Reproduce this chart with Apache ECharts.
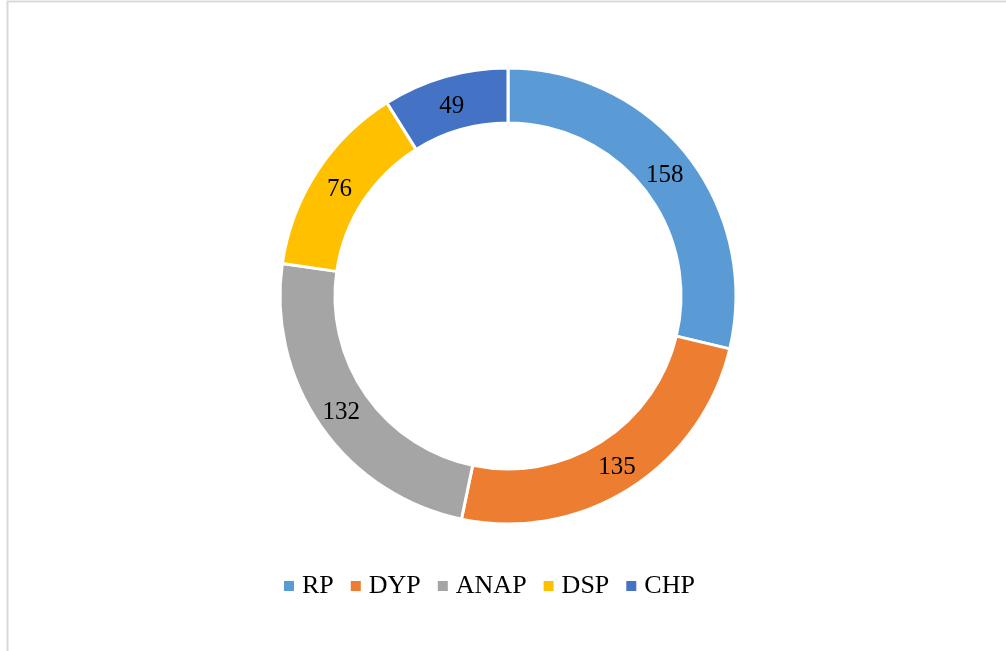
<!DOCTYPE html>
<html>
<head>
<meta charset="utf-8">
<script src="https://cdn.jsdelivr.net/npm/echarts@6/dist/echarts.min.js"></script>
<style>
  html, body { margin: 0; padding: 0; background: #fff; }
  #chart { width: 1006px; height: 651px; }
</style>
</head>
<body>
<div id="chart"></div>
<script>
// 各类别及数量
const categories = ['RP', 'DYP', 'ANAP', 'DSP', 'CHP'];
const values = [158, 135, 132, 76, 49];
const colors = ['#5B9BD5', '#ED7D31', '#A5A5A5', '#FFC000', '#4472C4'];

// 标签微调（上半部分标签稍微下移）
const labelShift = { RP: [-3, 6], DSP: [2, 4], CHP: [0, 6] };

const myChart = echarts.init(document.getElementById('chart'));
const option = {
  animation: false,
  color: colors,
  graphic: [
    {
      type: 'rect',
      shape: { x: 7.5, y: 1.5, width: 1100, height: 700 },
      style: { fill: 'none', stroke: '#d9d9d9', lineWidth: 2 },
      silent: true
    }
  ],
  legend: {
    data: categories,
    left: 277,
    top: 568,
    icon: 'rect',
    itemWidth: 12,
    itemHeight: 12,
    itemGap: 15,
    textStyle: {
      fontFamily: 'Liberation Serif',
      fontSize: 26,
      color: '#000',
      padding: [0, 0, 0, 2]
    }
  },
  series: [
    {
      type: 'pie',
      center: [508, 296],
      radius: [173, 228],
      startAngle: 90,
      clockwise: true,
      avoidLabelOverlap: false,
      itemStyle: { borderColor: '#fff', borderWidth: 3 },
      label: {
        show: true,
        position: 'inside',
        formatter: '{c}',
        fontFamily: 'Liberation Serif',
        fontSize: 25,
        color: '#000'
      },
      labelLine: { show: false },
      emphasis: { disabled: true },
      data: categories.map((name, i) => ({
        name: name,
        value: values[i],
        label: labelShift[name] ? { offset: labelShift[name] } : undefined
      }))
    }
  ]
};
option && myChart.setOption(option);
</script>
</body>
</html>
